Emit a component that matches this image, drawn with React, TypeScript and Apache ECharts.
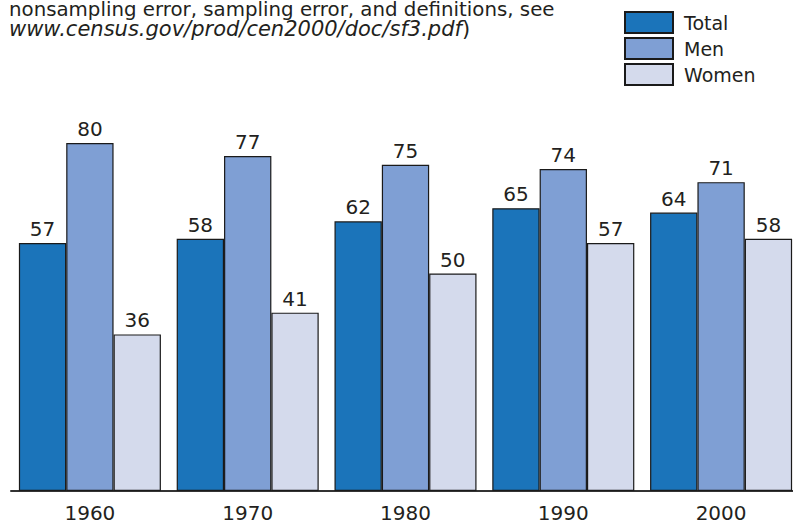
import React, { useEffect, useRef } from "react";
import * as echarts from "echarts";

const categories = ["1960", "1970", "1980", "1990", "2000"];
const totalValues = [57, 58, 62, 65, 64];
const menValues = [80, 77, 75, 74, 71];
const womenValues = [36, 41, 50, 57, 58];
const seriesNames = ["Total", "Men", "Women"];
const noteLine1 = "nonsampling error, sampling error, and definitions, see";
const noteLine2 = "www.census.gov/prod/cen2000/doc/sf3.pdf";

const FONT = "'DejaVu Sans', 'Open Sans', sans-serif";
const TXT = "#231f20";
const colors = ["#1b74ba", "#7f9fd4", "#d4daec"];

export default function App() {
  const ref = useRef<HTMLDivElement>(null);
  useEffect(() => {
    if (!ref.current) return;
    const chart = echarts.init(ref.current, undefined, { renderer: "svg" });
    const mk = (name: string, data: number[], color: string) => ({
      name,
      type: "bar",
      data,
      barGap: "0%",
      barCategoryGap: "10%",
      itemStyle: { color, borderColor: "#1a1a1a", borderWidth: 1.2 },
      label: {
        show: true,
        position: "top",
        distance: 4,
        color: TXT,
        fontSize: 20,
        fontFamily: FONT,
      },
    });
    chart.setOption({
      animation: false,
      backgroundColor: "#ffffff",
      grid: {
        left: 11,
        width: 789,
        top: 56,
        bottom: 34,
        containLabel: false,
        outerBoundsMode: "none",
      },
      legend: {
        orient: "vertical",
        left: 624,
        top: 10,
        padding: 0,
        icon: "rect",
        itemWidth: 48,
        itemHeight: 21,
        itemGap: 1,
        data: seriesNames,
        textStyle: {
          fontSize: 19,
          fontFamily: FONT,
          color: TXT,
          lineHeight: 21,
          padding: [0, 0, 4, 6],
        },
      },
      xAxis: {
        type: "category",
        data: categories,
        axisTick: { show: false },
        axisLine: { lineStyle: { color: "#333333", width: 2 } },
        axisLabel: {
          color: TXT,
          fontSize: 20,
          fontFamily: FONT,
          margin: 12,
        },
      },
      yAxis: {
        type: "value",
        min: 0,
        max: 100,
        show: false,
        splitLine: { show: false },
      },
      graphic: [
        {
          type: "text",
          x: 9,
          y: 9,
          style: {
            text: noteLine1,
            fontSize: 19.8,
            lineHeight: 18,
            fontFamily: FONT,
            fill: TXT,
            verticalAlign: "middle",
          },
        },
        {
          type: "text",
          x: 9,
          y: 29,
          style: {
            text: "{i|" + noteLine2 + "}{n|)}",
            verticalAlign: "middle",
            rich: {
              i: { fontSize: 21, lineHeight: 18, fontFamily: FONT, fontStyle: "italic", fill: TXT },
              n: { fontSize: 21, lineHeight: 18, fontFamily: FONT, fill: TXT },
            },
          },
        },
      ],
      series: [
        mk(seriesNames[0], totalValues, colors[0]),
        mk(seriesNames[1], menValues, colors[1]),
        mk(seriesNames[2], womenValues, colors[2]),
      ],
    });
    return () => chart.dispose();
  }, []);
  return (
    <div
      ref={ref}
      style={{ position: "fixed", left: 0, top: 0, width: 793, height: 525 }}
    />
  );
}
